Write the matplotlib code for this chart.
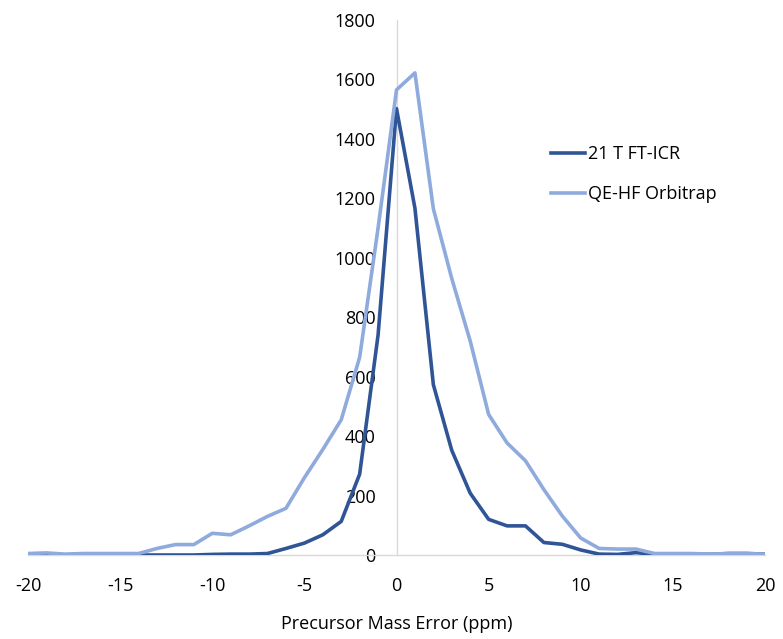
import matplotlib
matplotlib.use("Agg")
import matplotlib.pyplot as plt

plt.rcParams['font.family'] = ['Open Sans', 'DejaVu Sans']

x_ppm = list(range(-20, 21))
ft_icr = [0, 0, 0, 0, 0, 0, 0, 0, 0, 0, 2, 3, 3, 5, 22, 40, 68, 113, 272, 740,
          1502, 1167, 573, 352, 208, 120, 98, 98, 42, 36, 17, 3, 2, 8, 2, 3, 3, 2, 5, 5, 3]
orbitrap = [5, 7, 3, 5, 5, 5, 5, 22, 35, 35, 73, 68, 98, 130, 157, 260, 355, 455, 665, 1100,
            1565, 1622, 1165, 930, 720, 473, 377, 317, 220, 131, 57, 22, 20, 20, 5, 5, 5, 3, 5, 5, 3]
labels = ["21 T FT-ICR", "QE-HF Orbitrap"]
colors = ["#2F5597", "#8FAADC"]
x_ticks = [-20, -15, -10, -5, 0, 5, 10, 15, 20]
y_ticks = [0, 200, 400, 600, 800, 1000, 1200, 1400, 1600, 1800]

fig = plt.figure(figsize=(7.83, 6.39), dpi=100)
ax = fig.add_axes([28/783, 1-555/639, (765-28)/783, (555-20)/639])

ax.plot(x_ppm, ft_icr, color=colors[0], lw=2.6, label=labels[0], zorder=3, solid_joinstyle='round')
ax.plot(x_ppm, orbitrap, color=colors[1], lw=2.6, label=labels[1], zorder=4, solid_joinstyle='round')

ax.set_xlim(-20, 20)
ax.set_ylim(0, 1800)
ax.set_xticks(x_ticks)
ax.set_xticklabels([str(v) for v in x_ticks])
ax.set_yticks(y_ticks)
ax.set_yticklabels([str(v) for v in y_ticks])

for s in ['top', 'right']:
    ax.spines[s].set_visible(False)
ax.spines['left'].set_position(('data', 0))
ax.spines['left'].set_color('#D9D9D9')
ax.spines['left'].set_linewidth(1.0)
ax.spines['bottom'].set_color('#D9D9D9')
ax.spines['bottom'].set_linewidth(1.0)
ax.spines['left'].set_zorder(1)

ax.tick_params(axis='both', length=0, labelsize=13, colors='#000000')
ax.tick_params(axis='x', pad=16)
ax.tick_params(axis='y', pad=15)
for lbl in ax.get_yticklabels():
    lbl.set_zorder(5)

ax.set_xlabel("Precursor Mass Error (ppm)", fontsize=13, labelpad=14)

ax.legend(loc='upper left', bbox_to_anchor=(0.70, 0.78), frameon=False, fontsize=13,
          handlelength=1.9, handletextpad=0.15, labelspacing=1.25, borderaxespad=0)

fig.savefig("out.png", dpi=100)
